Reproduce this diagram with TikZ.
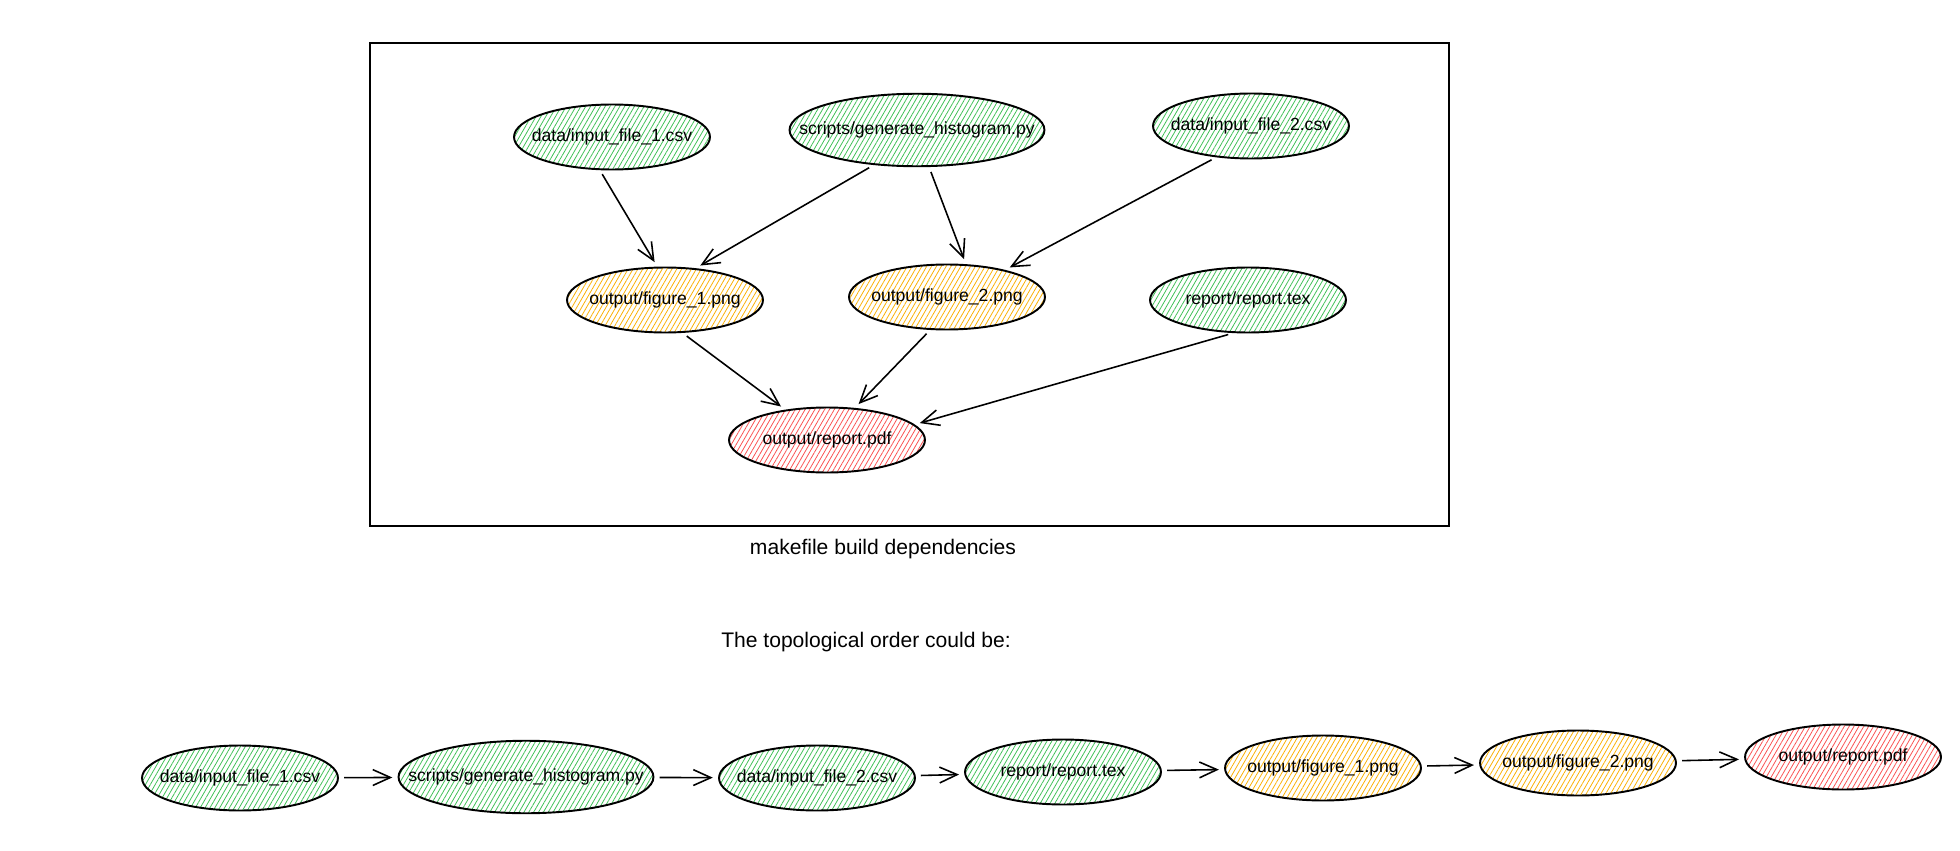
\documentclass[tikz,border=0pt]{standalone}
\usepackage{fontspec}
\setmainfont{Liberation Sans}
\usetikzlibrary{shapes.geometric, arrows.meta, patterns.meta}

\definecolor{srcgreen}{HTML}{40C057}
\definecolor{figyellow}{HTML}{FAB005}
\definecolor{outred}{HTML}{FA5252}

\begin{document}
\begin{tikzpicture}[x=0.02cm, y=-0.02cm, line width=1pt,
    file node/.style={ellipse, draw, line width=1.1pt, minimum width=3.92cm, minimum height=1.3cm, inner sep=0pt},
    wide node/.style={minimum width=5.1cm, minimum height=1.45cm},
    hatch/.style={pattern={Lines[angle=60, distance=2.4pt, line width=0.45pt]}, pattern color=#1},
    src node/.style={file node, hatch=srcgreen},
    fig node/.style={file node, hatch=figyellow},
    out node/.style={file node, hatch=outred},
    dep/.style={-{Straight Barb[length=10pt, width=9pt]}, line width=0.9pt, shorten <=3pt, shorten >=3pt}]

    \useasboundingbox (0,0) rectangle (1960,851);

    % Dependency graph
    \draw (370,43) rectangle (1449,526);

    \node[src node, label=center:{data/input\_file\_1.csv}] (in1) at (612,137) {};
    \node[src node, wide node, label=center:{scripts/generate\_histogram.py}] (hist) at (917,130) {};
    \node[src node, label=center:{data/input\_file\_2.csv}] (in2) at (1251,126) {};
    \node[fig node, label=center:{output/figure\_1.png}] (fig1) at (665,300) {};
    \node[fig node, label=center:{output/figure\_2.png}] (fig2) at (947,297) {};
    \node[src node, label=center:{report/report.tex}] (tex) at (1248,300) {};
    \node[out node, label=center:{output/report.pdf}] (pdf) at (827,440) {};

    \draw[dep] (in1.-111) -- (fig1.103);
    \draw[dep] (hist.-141) -- (fig1.46);
    \draw[dep] (hist.-72) -- (fig2.60);
    \draw[dep] (in2.-138) -- (fig2.25);
    \draw[dep] (fig1.-62) -- (pdf.144);
    \draw[dep] (fig2.-117) -- (pdf.49);
    \draw[dep] (tex.-114) -- (pdf.10);

    \node[font=\large] (caption) at (883,549) {makefile build dependencies};
    \node[font=\large] (order) at (866,642) {The topological order could be:};

    % Topological order
    \node[src node, label=center:{data/input\_file\_1.csv}] (oin1) at (240,778) {};
    \node[src node, wide node, label=center:{scripts/generate\_histogram.py}] (ohist) at (526,777) {};
    \node[src node, label=center:{data/input\_file\_2.csv}] (oin2) at (817,778) {};
    \node[src node, label=center:{report/report.tex}] (otex) at (1063,772) {};
    \node[fig node, label=center:{output/figure\_1.png}] (ofig1) at (1323,768) {};
    \node[fig node, label=center:{output/figure\_2.png}] (ofig2) at (1578,763) {};
    \node[out node, label=center:{output/report.pdf}] (opdf) at (1843,757) {};

    \draw[dep] (oin1) -- (ohist);
    \draw[dep] (ohist) -- (oin2);
    \draw[dep] (oin2) -- (otex);
    \draw[dep] (otex) -- (ofig1);
    \draw[dep] (ofig1) -- (ofig2);
    \draw[dep] (ofig2) -- (opdf);

\end{tikzpicture}
\end{document}
